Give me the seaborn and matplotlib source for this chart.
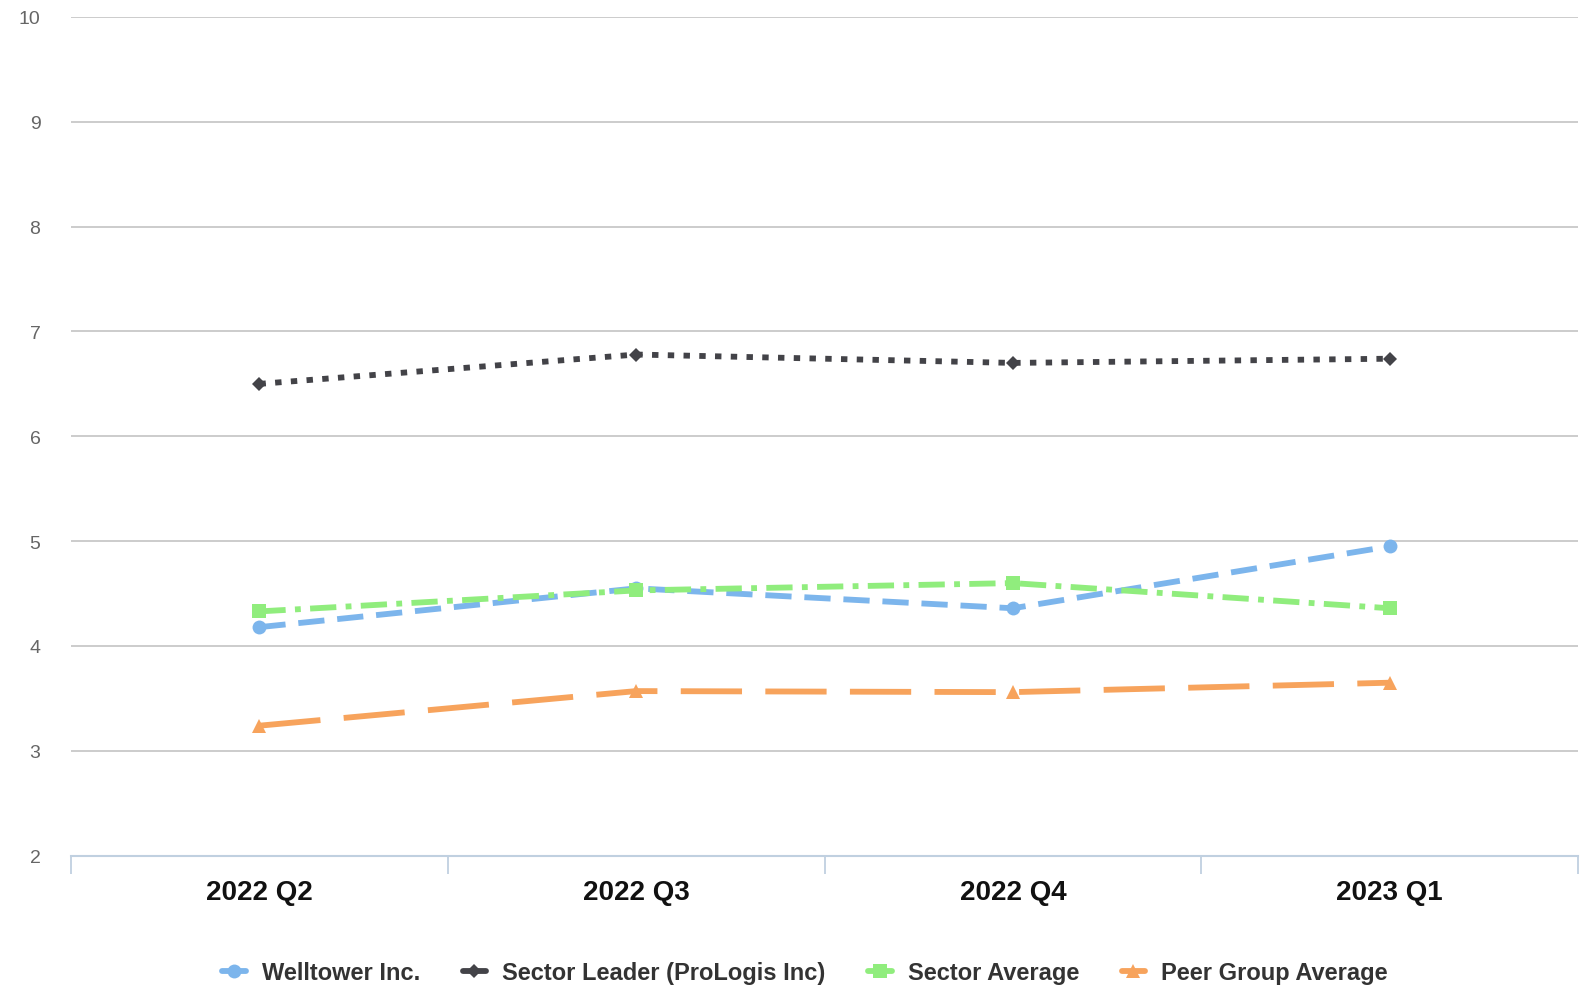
import matplotlib
matplotlib.use("Agg")
import matplotlib.pyplot as plt
import seaborn as sns
import pandas as pd

quarters = ["2022 Q2", "2022 Q3", "2022 Q4", "2023 Q1"]
welltower = [4.18, 4.55, 4.36, 4.95]
sector_leader = [6.50, 6.78, 6.70, 6.74]
sector_average = [4.33, 4.53, 4.60, 4.36]
peer_group_average = [3.24, 3.57, 3.56, 3.65]
y_ticks = [2, 3, 4, 5, 6, 7, 8, 9, 10]

series_names = ["Welltower Inc.", "Sector Leader (ProLogis Inc)", "Sector Average", "Peer Group Average"]
series_values = [welltower, sector_leader, sector_average, peer_group_average]
colors = ["#7cb5ec", "#434348", "#90ed7d", "#f7a35c"]
markers = ["o", "D", "s", "^"]
dashes = [(4.5, 2.2), (1.1, 1.6), (4.5, 1.6, 1, 1.6), (10.5, 4)]
msizes = [10, 7.5, 10.5, 10]

sns.set_theme(style="white")
plt.rcParams['font.family'] = ['Liberation Sans', 'DejaVu Sans']

fig = plt.figure(figsize=(15.86, 9.95), dpi=100)
ax = fig.add_axes([0.0448, 0.139, 0.9502, 0.843])

for name, vals, c, m, d, ms in zip(series_names, series_values, colors, markers, dashes, msizes):
    df = pd.DataFrame({"quarter": quarters, "value": vals})
    sns.lineplot(data=df, x="quarter", y="value", ax=ax, color=c, marker=m,
                 markersize=ms, markeredgewidth=0, linewidth=4.2, label=name,
                 dashes=False, sort=False)
    ax.lines[-1].set_dashes(d)
    ax.lines[-1].set_dash_capstyle("butt")

ax.set_xlim(-0.5, 3.5)
ax.set_ylim(2, 10)
ax.set_yticks(y_ticks)
ax.set_yticklabels([str(t) for t in y_ticks], fontsize=14, color="#666666")
ax.set_xticks(range(len(quarters)))
ax.set_xticklabels(quarters, fontsize=20, fontweight="bold", color="#111111")
ax.set_xlabel("")
ax.set_ylabel("")

ax.yaxis.grid(True, color="#c8c8c8", linewidth=1.3)
ax.xaxis.grid(False)
for s in ["top", "right", "left"]:
    ax.spines[s].set_visible(False)
ax.spines["bottom"].set_color("#c0d0e0")
ax.spines["bottom"].set_linewidth(1.5)

# tick marks at category band boundaries
ax.set_xticks([-0.5, 0.5, 1.5, 2.5, 3.5], minor=True)
ax.tick_params(axis="x", which="minor", bottom=True, length=13, width=1.3,
               color="#c0d0e0", direction="out")
ax.tick_params(axis="x", which="major", bottom=False, length=0, pad=17)
ax.tick_params(axis="y", which="major", left=False, length=0, pad=22)

leg = ax.legend(loc="center", bbox_to_anchor=(0.487, -0.139), ncol=4, frameon=False,
                handlelength=1.0, handletextpad=0.68, columnspacing=1.8,
                prop={"size": 17, "weight": "bold"})
for t in leg.get_texts():
    t.set_color("#333333")
for h in leg.get_lines():
    h.set_linestyle("-")

fig.savefig("out.png", dpi=100)
